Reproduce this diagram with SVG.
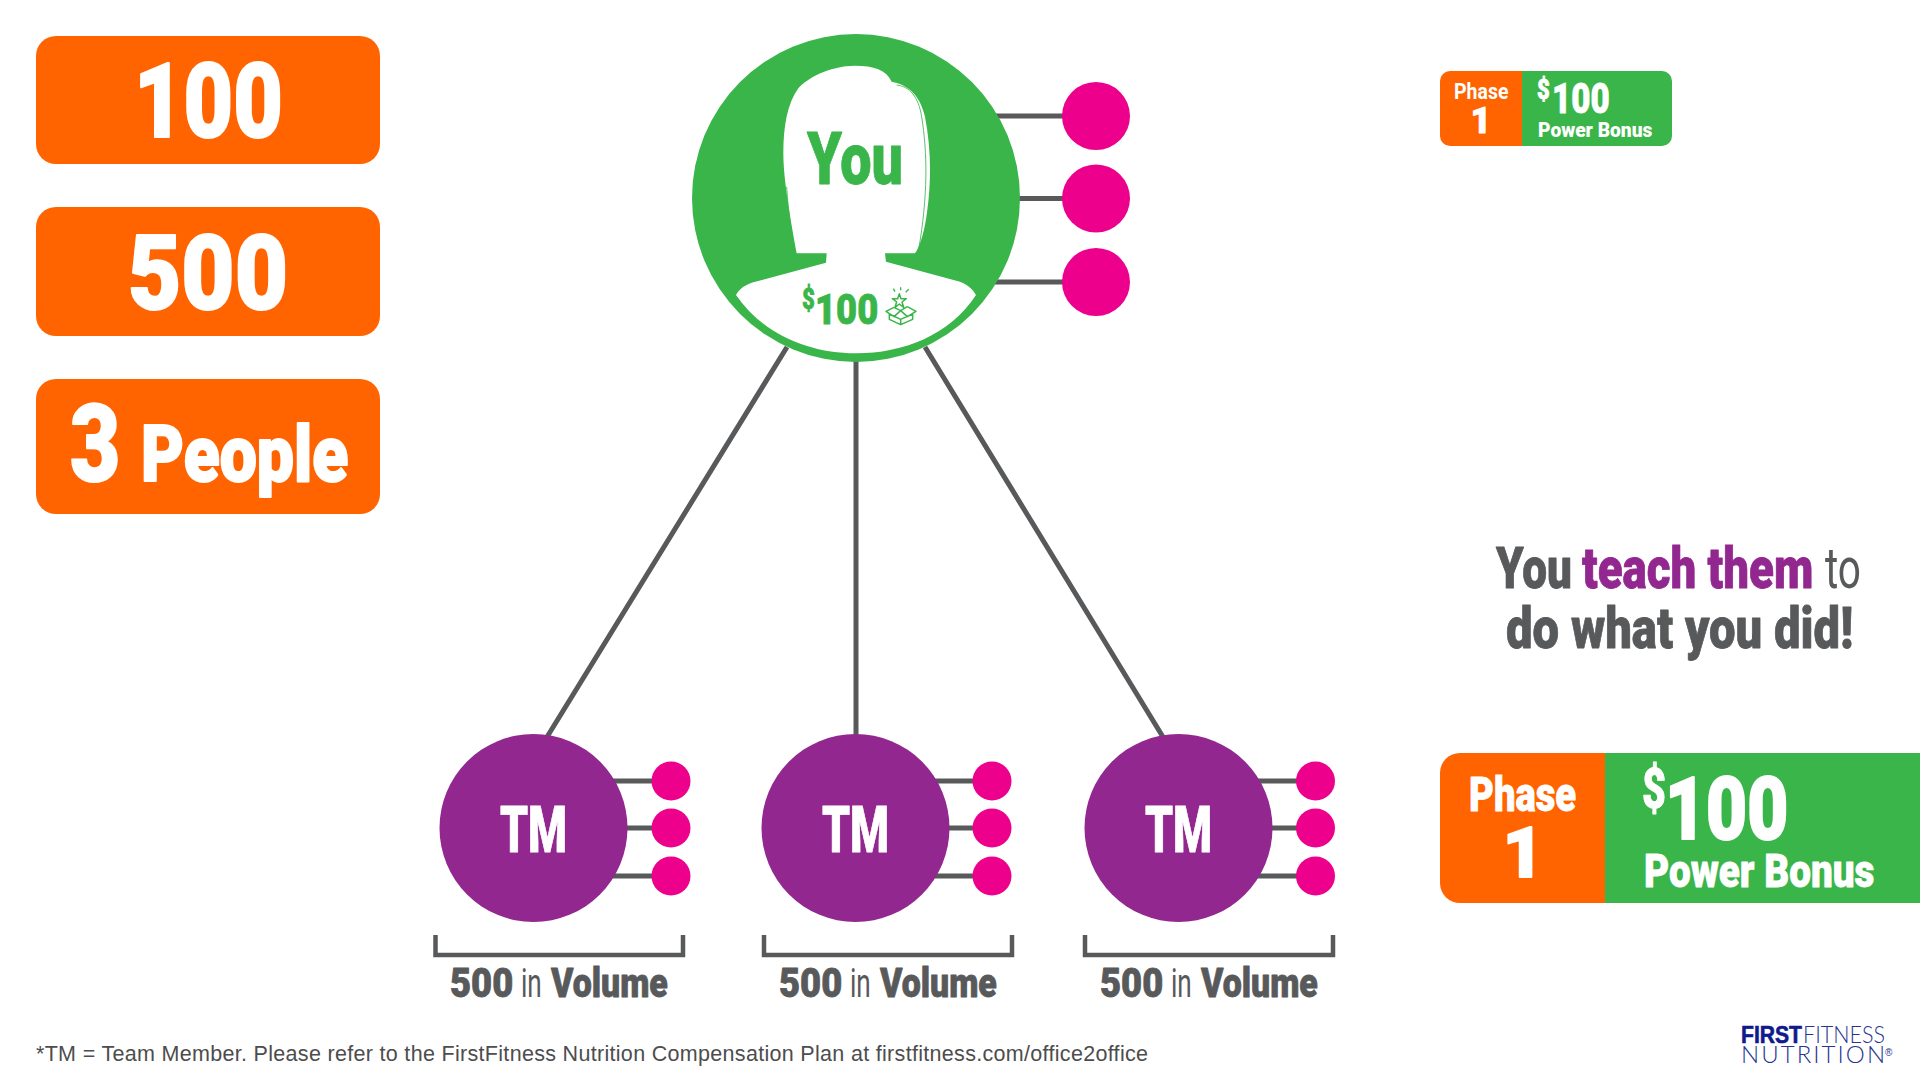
<svg xmlns="http://www.w3.org/2000/svg" width="1920" height="1080" viewBox="0 0 1920 1080">
<style>
text{font-family:"Roboto","Liberation Sans",sans-serif;font-weight:900;stroke-linejoin:round;lengthAdjust:spacingAndGlyphs}
.w{fill:#fff;stroke:#fff;stroke-width:.8}.g{fill:#3ab54a;stroke:#3ab54a;stroke-width:.8}.d{fill:#58595b;stroke:#58595b;stroke-width:.8}.p{fill:#92278f;stroke:#92278f;stroke-width:.8}
.in{font-weight:400;stroke:none}
.big{stroke-width:2}
.c{stroke:#58595b;stroke-width:5;fill:none}
.o{fill:#ff6400}.gb{fill:#3ab54a}.m{fill:#ec008c}.t{fill:#92278f}
.br{stroke:#58595b;stroke-width:4.500;fill:none}
.sans{font-family:"Liberation Sans",sans-serif;font-weight:400}
</style>
<rect width="1920" height="1080" fill="#fff"/>
<g id="connectors">
<path class="c" d="M787 347L547 737M856 360V735M925 347L1163 737"/>
<path class="c" d="M990 116H1096M1010 198.500H1096M990 282H1096"/>
<path class="c" d="M600 781H671M620 828H671M600 876H671"/>
<path class="c" d="M922 781H992M942 828H992M922 876H992"/>
<path class="c" d="M1245 781H1315M1265 828H1315M1245 876H1315"/>
</g>
<g id="stat-100"><rect class="o" x="36" y="36" width="344" height="128" rx="20"/><text class="w big" transform="translate(134 137) scale(.8 1)" font-size="103" textLength="186" lengthAdjust="spacingAndGlyphs">100</text></g>
<g id="stat-500"><rect class="o" x="36" y="207" width="344" height="129" rx="20"/><text class="w big" transform="translate(128 309) scale(.8 1)" font-size="103" textLength="200" lengthAdjust="spacingAndGlyphs">500</text></g>
<g id="stat-people"><rect class="o" x="36" y="379" width="344" height="135" rx="20"/><text class="w big" transform="translate(70 481) scale(.8 1)" font-size="108" textLength="63" lengthAdjust="spacingAndGlyphs">3</text><text class="w big" transform="translate(141 481) scale(.8 1)" font-size="78" textLength="259" lengthAdjust="spacingAndGlyphs">People</text></g>
<g id="you">
<circle class="gb" cx="856" cy="198" r="164"/>
<g transform="translate(670 20) scale(.33333)">
<path fill="#fff" d="M380 700C362 600 340 480 340 400C340 320 352 250 385 205C410 175 480 137 555 137C610 137 650 150 665 185C715 195 750 225 765 290C782 380 785 470 772 570C765 630 750 680 735 700H645L648 725L870 785C895 795 910 810 918 825C840 945 700 1000 558 1000C420 1000 280 945 198 825C210 805 225 795 250 787L468 728L470 700Z"/>
<path fill="none" stroke="#3ab54a" stroke-width="2.500" d="M680 195C720 200 745 230 755 290C772 400 775 520 745 695M350 500C355 580 365 640 372 695"/>
<path fill="none" stroke="#3ab54a" stroke-width="4.500" stroke-linejoin="round" d="M688 821L693 836H709L696 846L701 862L688 852L675 862L680 846L667 836H683ZM672 862L648 874L672 890L692 872L712 890L738 874L712 860M672 862L692 872L712 860M658 882V898L692 914L728 898V882M658 882L692 898L728 882M692 898V914"/>
<path fill="none" stroke="#3ab54a" stroke-width="4" d="M670 806L675 815M692 802V811M716 808L707 817"/>
</g>
<text class="g" transform="translate(807 184) scale(.8 1)" font-size="72" textLength="120" lengthAdjust="spacingAndGlyphs">You</text>
<text class="g" transform="translate(802 309) scale(.8 1)" font-size="29" textLength="16" lengthAdjust="spacingAndGlyphs">$</text>
<text class="g" transform="translate(815 324) scale(.8 1)" font-size="42" textLength="79" lengthAdjust="spacingAndGlyphs">100</text>
</g>
<g id="you-dot-1"><circle class="m" cx="1096" cy="116" r="34"/></g>
<g id="you-dot-2"><circle class="m" cx="1096" cy="198.500" r="34"/></g>
<g id="you-dot-3"><circle class="m" cx="1096" cy="282" r="34"/></g>
<g id="tm-1"><circle class="t" cx="533.500" cy="828" r="94"/><text class="w" transform="translate(500 852) scale(.8 1)" font-size="64" textLength="84" lengthAdjust="spacingAndGlyphs">TM</text>
<circle class="m" cx="671" cy="781" r="19.500"/><circle class="m" cx="671" cy="828" r="19.500"/><circle class="m" cx="671" cy="876" r="19.500"/></g>
<g id="tm-2"><circle class="t" cx="855.500" cy="828" r="94"/><text class="w" transform="translate(822 852) scale(.8 1)" font-size="64" textLength="84" lengthAdjust="spacingAndGlyphs">TM</text>
<circle class="m" cx="992" cy="781" r="19.500"/><circle class="m" cx="992" cy="828" r="19.500"/><circle class="m" cx="992" cy="876" r="19.500"/></g>
<g id="tm-3"><circle class="t" cx="1178.500" cy="828" r="94"/><text class="w" transform="translate(1145 852) scale(.8 1)" font-size="64" textLength="84" lengthAdjust="spacingAndGlyphs">TM</text>
<circle class="m" cx="1315.500" cy="781" r="19.500"/><circle class="m" cx="1315.500" cy="828" r="19.500"/><circle class="m" cx="1315.500" cy="876" r="19.500"/></g>
<g id="volume-1"><path class="br" d="M435.500 935V955H683V935"/><text class="d" transform="translate(450 997) scale(.8 1)" font-size="40" textLength="79" lengthAdjust="spacingAndGlyphs">500</text><text class="d in" transform="translate(521 997) scale(.8 1)" font-size="40" textLength="26" lengthAdjust="spacingAndGlyphs">in</text><text class="d" transform="translate(551 997) scale(.8 1)" font-size="40" textLength="146" lengthAdjust="spacingAndGlyphs">Volume</text></g>
<g id="volume-2"><path class="br" d="M764 935V955H1012V935"/><text class="d" transform="translate(779 997) scale(.8 1)" font-size="40" textLength="79" lengthAdjust="spacingAndGlyphs">500</text><text class="d in" transform="translate(850 997) scale(.8 1)" font-size="40" textLength="26" lengthAdjust="spacingAndGlyphs">in</text><text class="d" transform="translate(880 997) scale(.8 1)" font-size="40" textLength="146" lengthAdjust="spacingAndGlyphs">Volume</text></g>
<g id="volume-3"><path class="br" d="M1085 935V955H1333V935"/><text class="d" transform="translate(1100 997) scale(.8 1)" font-size="40" textLength="79" lengthAdjust="spacingAndGlyphs">500</text><text class="d in" transform="translate(1171 997) scale(.8 1)" font-size="40" textLength="26" lengthAdjust="spacingAndGlyphs">in</text><text class="d" transform="translate(1201 997) scale(.8 1)" font-size="40" textLength="146" lengthAdjust="spacingAndGlyphs">Volume</text></g>
<g id="badge-small">
<path class="gb" d="M1522 71H1662a10 10 0 0 1 10 10V136a10 10 0 0 1-10 10H1522Z"/>
<path class="o" d="M1522 71H1450a10 10 0 0 0-10 10V136a10 10 0 0 0 10 10H1522Z"/>
<text class="w in" transform="translate(1454 99) scale(.8 1)" font-size="22.500" style="font-weight:700" textLength="68" lengthAdjust="spacingAndGlyphs">Phase</text>
<text class="w" x="1481" y="133" font-size="36" text-anchor="middle">1</text>
<text class="w" transform="translate(1537 99) scale(.8 1)" font-size="28" textLength="16" lengthAdjust="spacingAndGlyphs">$</text>
<text class="w" transform="translate(1552 113) scale(.8 1)" font-size="42" textLength="72" lengthAdjust="spacingAndGlyphs">100</text>
<text class="w in" transform="translate(1538 137) scale(.8 1)" font-size="21" style="font-weight:900" textLength="143" lengthAdjust="spacingAndGlyphs">Power Bonus</text>
</g>
<g id="message">
<text class="d" transform="translate(1496 588) scale(.8 1)" font-size="58" textLength="95" lengthAdjust="spacingAndGlyphs">You</text>
<text class="p" transform="translate(1582 588) scale(.8 1)" font-size="58" textLength="289" lengthAdjust="spacingAndGlyphs">teach them</text>
<text class="d in" transform="translate(1825 588) scale(.8 1)" font-size="58" textLength="45" lengthAdjust="spacingAndGlyphs">to</text>
<text class="d" transform="translate(1506 648) scale(.8 1)" font-size="58" textLength="434" lengthAdjust="spacingAndGlyphs">do what you did!</text>
</g>
<g id="badge-large">
<rect class="gb" x="1605" y="753" width="315" height="150"/>
<path class="o" d="M1605 753H1460a20 20 0 0 0-20 20V883a20 20 0 0 0 20 20H1605Z"/>
<text class="w" transform="translate(1469 811) scale(.8 1)" font-size="48" textLength="134" lengthAdjust="spacingAndGlyphs">Phase</text>
<text class="w big" x="1523" y="877" font-size="70" text-anchor="middle">1</text>
<text class="w" transform="translate(1642 808) scale(.8 1)" font-size="56" textLength="30" lengthAdjust="spacingAndGlyphs">$</text>
<text class="w big" transform="translate(1665 839) scale(.8 1)" font-size="87" textLength="154" lengthAdjust="spacingAndGlyphs">100</text>
<text class="w" transform="translate(1644 887) scale(.8 1)" font-size="47" textLength="288" lengthAdjust="spacingAndGlyphs">Power Bonus</text>
</g>
<text class="sans" x="36" y="1061" font-size="21.500" fill="#4d4d4d" textLength="1112">*TM = Team Member. Please refer to the FirstFitness Nutrition Compensation Plan at firstfitness.com/office2office</text>
<g id="logo">
<text class="sans" x="1741" y="1043" font-size="23" fill="#101a8c" stroke="#101a8c" stroke-width=".6" textLength="61" lengthAdjust="spacingAndGlyphs" style="font-weight:700">FIRST</text>
<text x="1803" y="1043" font-size="23" fill="#27358f" textLength="82" lengthAdjust="spacingAndGlyphs" style="font-family:Lato,'Liberation Sans',sans-serif;font-weight:300">FITNESS</text>
<text x="1741" y="1063" font-size="24" fill="#27358f" textLength="144" style="font-family:Lato,'Liberation Sans',sans-serif;font-weight:300">NUTRITION</text>
<text class="sans" x="1885" y="1056" font-size="10" fill="#27358f">®</text>
</g>
</svg>
